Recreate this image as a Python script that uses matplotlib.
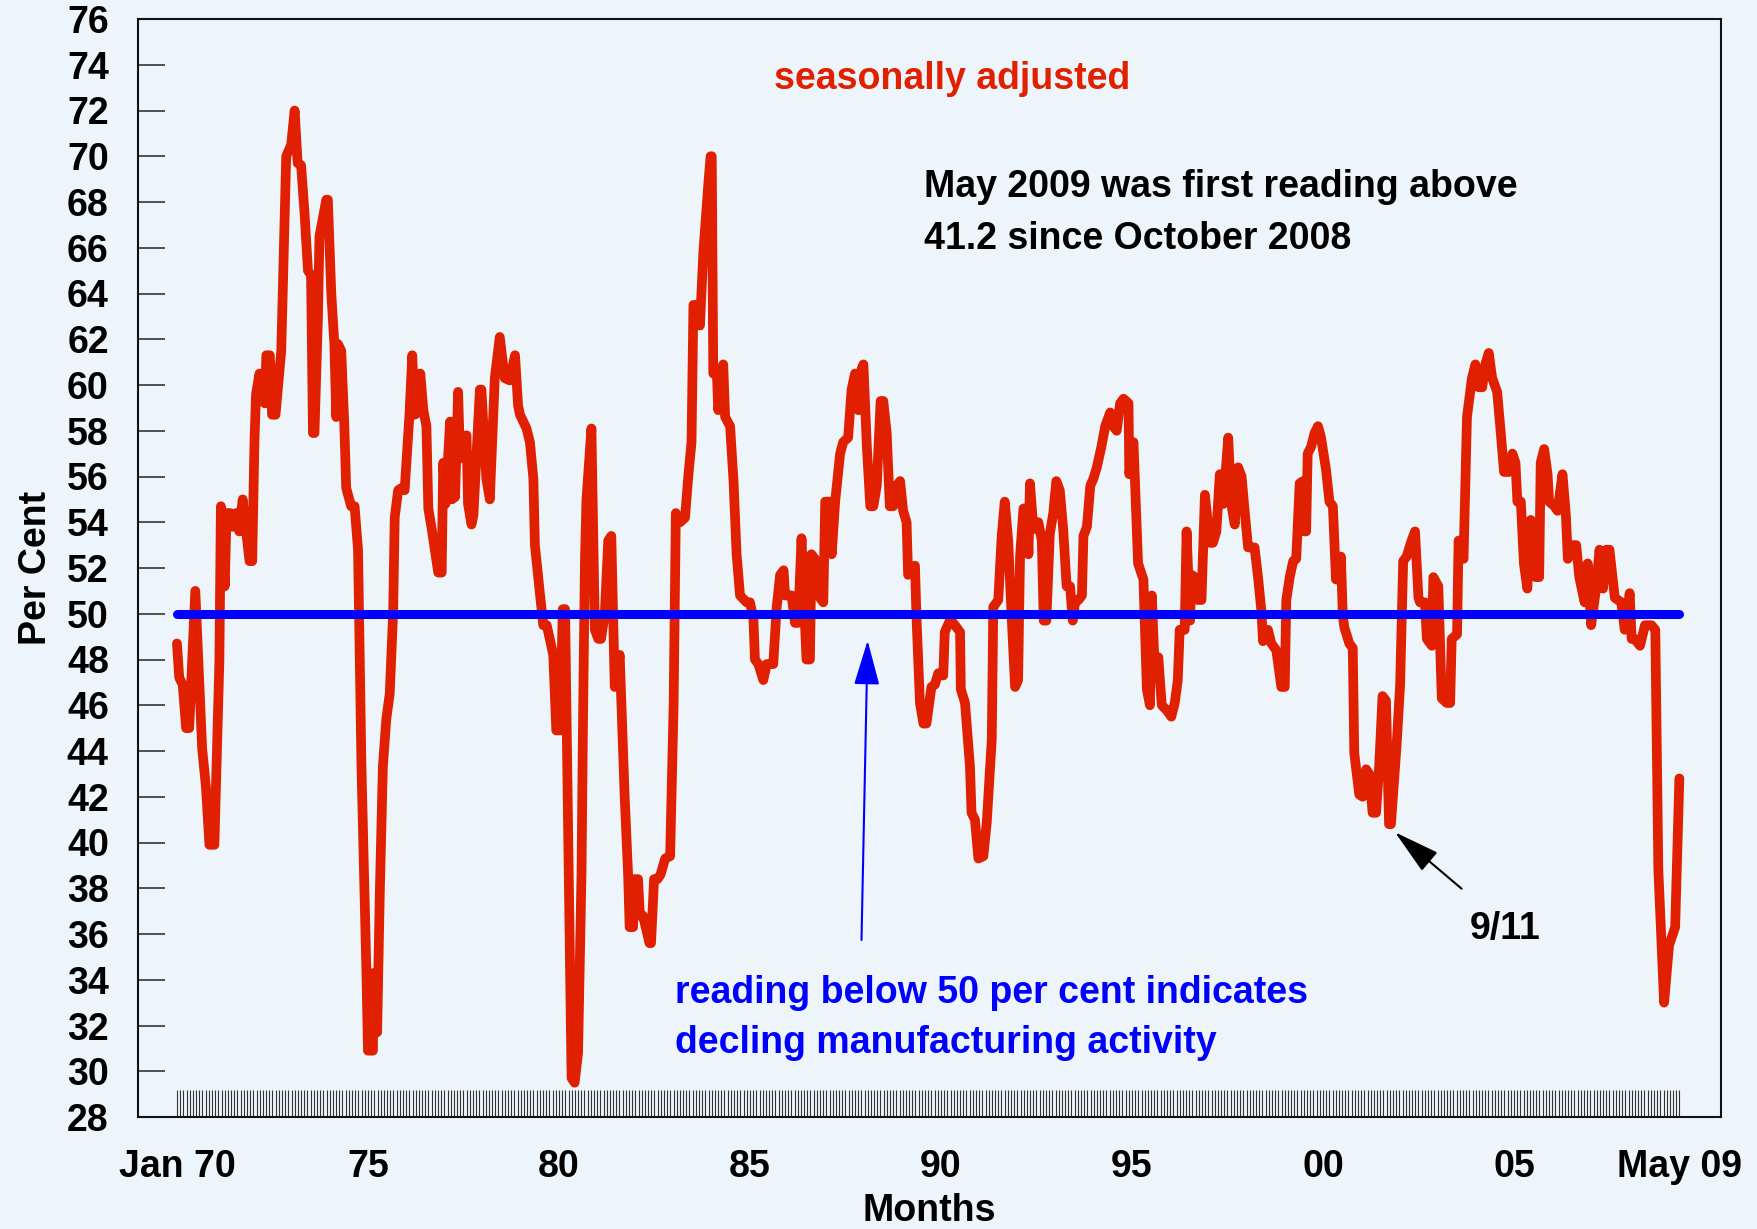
import matplotlib

matplotlib.use("Agg")
import matplotlib.pyplot as plt
import numpy as np

# ISM manufacturing index (per cent) at its vertices
months = [
    1970.00, 1970.06, 1970.15, 1970.24, 1970.32, 1970.48, 1970.66, 1970.76, 1970.85, 1970.98,
    1971.11, 1971.15, 1971.25, 1971.30, 1971.40, 1971.46, 1971.55, 1971.63, 1971.72, 1971.81,
    1971.90, 1971.97, 1972.03, 1972.07, 1972.16, 1972.25, 1972.30, 1972.34, 1972.43, 1972.49,
    1972.58, 1972.73, 1972.86, 1972.99, 1973.08, 1973.16, 1973.25, 1973.34, 1973.43, 1973.51,
    1973.56, 1973.60, 1973.69, 1973.73, 1973.91, 1973.95, 1974.04, 1974.12, 1974.17, 1974.21,
    1974.30, 1974.38, 1974.43, 1974.56, 1974.65, 1974.74, 1974.83, 1974.96, 1975.00, 1975.13,
    1975.15, 1975.24, 1975.31, 1975.39, 1975.48, 1975.57, 1975.66, 1975.70, 1975.79, 1975.88,
    1975.96, 1976.09, 1976.16, 1976.22, 1976.31, 1976.37, 1976.45, 1976.53, 1976.58, 1976.67,
    1976.84, 1976.93, 1976.97, 1977.03, 1977.15, 1977.20, 1977.23, 1977.28, 1977.36, 1977.41,
    1977.58, 1977.62, 1977.71, 1977.76, 1977.93, 1977.97, 1978.10, 1978.19, 1978.32, 1978.45,
    1978.58, 1978.71, 1978.85, 1978.93, 1978.98, 1979.15, 1979.24, 1979.33, 1979.37, 1979.50,
    1979.59, 1979.68, 1979.76, 1979.85, 1979.93, 1980.03, 1980.10, 1980.16, 1980.20, 1980.24,
    1980.33, 1980.41, 1980.50, 1980.59, 1980.63, 1980.68, 1980.72, 1980.85, 1980.94, 1981.03,
    1981.10, 1981.20, 1981.29, 1981.37, 1981.46, 1981.59, 1981.63, 1981.72, 1981.81, 1981.85,
    1981.94, 1981.98, 1982.07, 1982.12, 1982.20, 1982.37, 1982.41, 1982.49, 1982.58, 1982.66,
    1982.78, 1982.91, 1982.95, 1983.00, 1983.06, 1983.17, 1983.30, 1983.39, 1983.47, 1983.52,
    1983.60, 1983.69, 1983.78, 1983.91, 1983.97, 1984.00, 1984.04, 1984.13, 1984.17, 1984.30,
    1984.35, 1984.48, 1984.57, 1984.65, 1984.74, 1984.91, 1985.00, 1985.09, 1985.13, 1985.22,
    1985.35, 1985.44, 1985.61, 1985.70, 1985.79, 1985.88, 1985.92, 1986.09, 1986.18, 1986.26,
    1986.35, 1986.39, 1986.48, 1986.57, 1986.61, 1986.70, 1986.79, 1986.92, 1986.97, 1987.10,
    1987.14, 1987.23, 1987.36, 1987.44, 1987.57, 1987.66, 1987.75, 1987.84, 1987.92, 1987.97,
    1988.06, 1988.15, 1988.23, 1988.32, 1988.42, 1988.49, 1988.58, 1988.66, 1988.75, 1988.84,
    1988.93, 1989.01, 1989.10, 1989.14, 1989.32, 1989.36, 1989.45, 1989.54, 1989.62, 1989.75,
    1989.84, 1989.93, 1990.06, 1990.10, 1990.23, 1990.32, 1990.50, 1990.52, 1990.63, 1990.76,
    1990.80, 1990.89, 1990.98, 1991.11, 1991.20, 1991.33, 1991.37, 1991.50, 1991.59, 1991.67,
    1991.76, 1991.85, 1991.94, 1992.02, 1992.07, 1992.16, 1992.25, 1992.29, 1992.33, 1992.42,
    1992.55, 1992.64, 1992.69, 1992.76, 1992.85, 1992.94, 1993.02, 1993.11, 1993.20, 1993.29,
    1993.38, 1993.45, 1993.51, 1993.60, 1993.69, 1993.73, 1993.82, 1993.91, 1993.99, 1994.08,
    1994.20, 1994.30, 1994.43, 1994.51, 1994.60, 1994.69, 1994.78, 1994.91, 1994.93, 1995.04,
    1995.16, 1995.30, 1995.39, 1995.47, 1995.52, 1995.60, 1995.69, 1995.78, 1995.90, 1996.03,
    1996.12, 1996.20, 1996.25, 1996.38, 1996.43, 1996.52, 1996.56, 1996.65, 1996.73, 1996.82,
    1996.91, 1997.04, 1997.12, 1997.21, 1997.30, 1997.39, 1997.52, 1997.60, 1997.69, 1997.78,
    1997.87, 1997.95, 1998.04, 1998.21, 1998.30, 1998.39, 1998.43, 1998.56, 1998.65, 1998.78,
    1998.91, 1999.00, 1999.04, 1999.13, 1999.22, 1999.30, 1999.39, 1999.48, 1999.52, 1999.56,
    1999.60, 1999.69, 1999.78, 1999.87, 1999.95, 2000.08, 2000.17, 2000.26, 2000.34, 2000.43,
    2000.47, 2000.52, 2000.56, 2000.69, 2000.78, 2000.82, 2000.95, 2001.04, 2001.13, 2001.21,
    2001.30, 2001.39, 2001.47, 2001.56, 2001.65, 2001.73, 2001.78, 2001.93, 2002.02, 2002.10,
    2002.19, 2002.32, 2002.41, 2002.50, 2002.54, 2002.67, 2002.72, 2002.85, 2002.89, 2003.02,
    2003.11, 2003.24, 2003.33, 2003.37, 2003.51, 2003.55, 2003.68, 2003.77, 2003.90, 2003.99,
    2004.08, 2004.17, 2004.25, 2004.34, 2004.43, 2004.56, 2004.65, 2004.74, 2004.87, 2004.96,
    2005.04, 2005.09, 2005.18, 2005.26, 2005.35, 2005.44, 2005.57, 2005.66, 2005.70, 2005.79,
    2005.88, 2005.92, 2006.06, 2006.14, 2006.27, 2006.36, 2006.41, 2006.54, 2006.63, 2006.71,
    2006.85, 2006.93, 2007.02, 2007.15, 2007.24, 2007.33, 2007.42, 2007.50, 2007.64, 2007.81,
    2007.90, 2008.03, 2008.08, 2008.16, 2008.30, 2008.43, 2008.60, 2008.70, 2008.78, 2008.93,
    2009.06, 2009.22, 2009.33,
]
pmi = [
    48.7, 47.2, 46.9, 45.0, 45.0, 51.0, 44.1, 42.4, 39.9, 39.9,
    47.9, 54.7, 51.2, 54.4, 54.4, 53.8, 54.4, 53.6, 55.0, 53.6,
    52.3, 52.3, 57.6, 59.6, 60.5, 59.4, 59.2, 61.3, 61.3, 58.7,
    58.7, 61.5, 70.0, 70.5, 72.0, 69.7, 69.6, 67.5, 65.0, 64.8,
    57.9, 57.9, 62.9, 66.5, 68.1, 68.1, 64.0, 61.8, 58.6, 61.8,
    61.5, 58.3, 55.5, 54.7, 54.7, 52.8, 43.3, 34.3, 30.9, 30.9,
    34.3, 31.7, 37.8, 43.3, 45.4, 46.5, 50.1, 54.2, 55.4, 55.5,
    55.4, 58.8, 61.3, 58.7, 58.8, 60.5, 58.9, 58.2, 54.6, 53.7,
    51.8, 51.8, 56.6, 54.8, 58.4, 55.0, 58.4, 55.1, 59.7, 56.8,
    57.8, 54.8, 53.9, 54.3, 59.8, 59.8, 55.9, 55.0, 60.3, 62.1,
    60.3, 60.2, 61.3, 59.1, 58.7, 58.1, 57.5, 55.9, 53.0, 50.9,
    49.5, 49.5, 48.9, 48.2, 44.9, 44.9, 50.2, 50.2, 45.4, 40.9,
    29.7, 29.5, 30.8, 38.6, 45.4, 52.3, 55.0, 58.1, 49.3, 48.9,
    48.9, 50.0, 53.2, 53.4, 46.8, 48.2, 46.3, 42.0, 38.6, 36.3,
    36.3, 38.4, 38.4, 36.8, 36.8, 35.6, 35.6, 38.4, 38.4, 38.6,
    39.3, 39.4, 42.2, 45.9, 54.4, 54.0, 54.2, 56.1, 57.5, 63.5,
    63.5, 62.6, 65.8, 68.8, 70.0, 70.0, 60.5, 60.7, 58.9, 60.9,
    58.6, 58.2, 55.8, 52.6, 50.8, 50.5, 50.5, 49.8, 48.0, 47.8,
    47.1, 47.8, 47.8, 50.3, 51.7, 51.9, 50.8, 50.8, 49.6, 49.6,
    53.3, 51.5, 48.0, 48.0, 52.6, 52.4, 50.8, 50.5, 54.9, 54.9,
    52.6, 54.9, 57.0, 57.5, 57.7, 59.8, 60.5, 58.9, 60.7, 60.9,
    57.3, 54.7, 54.7, 55.6, 59.3, 59.3, 57.9, 54.7, 54.7, 55.6,
    55.8, 54.5, 54.0, 51.7, 52.1, 49.8, 46.1, 45.2, 45.2, 46.8,
    46.9, 47.4, 47.3, 49.2, 49.7, 49.6, 49.2, 46.7, 46.1, 43.3,
    41.3, 41.0, 39.3, 39.4, 40.9, 44.5, 50.3, 50.6, 53.4, 54.9,
    53.2, 49.9, 46.8, 47.1, 52.5, 54.6, 54.6, 52.6, 55.7, 53.7,
    54.0, 53.2, 49.7, 49.7, 53.5, 54.4, 55.8, 55.4, 53.7, 51.2,
    51.2, 49.7, 50.5, 50.6, 50.8, 53.4, 53.8, 55.6, 55.9, 56.4,
    57.3, 58.2, 58.8, 58.2, 58.0, 59.2, 59.4, 59.2, 56.1, 57.5,
    52.2, 51.5, 46.7, 46.0, 50.8, 47.4, 48.1, 46.0, 45.8, 45.5,
    46.1, 47.1, 49.3, 49.3, 53.6, 49.7, 51.7, 51.6, 50.6, 50.6,
    55.2, 53.1, 53.1, 53.6, 56.1, 54.8, 57.7, 54.8, 53.9, 56.4,
    56.0, 54.5, 52.9, 52.9, 51.6, 50.1, 48.8, 49.3, 48.7, 48.4,
    46.8, 46.8, 50.6, 51.6, 52.3, 52.4, 55.7, 55.8, 53.6, 53.6,
    57.0, 57.3, 57.9, 58.2, 57.7, 56.3, 54.9, 54.7, 51.5, 51.5,
    52.5, 49.9, 49.4, 48.7, 48.5, 43.9, 42.1, 42.0, 43.2, 43.0,
    41.3, 41.3, 43.3, 46.4, 46.2, 40.8, 40.8, 44.3, 46.9, 52.3,
    52.5, 53.2, 53.6, 50.7, 50.5, 50.5, 48.9, 48.6, 51.6, 51.2,
    46.3, 46.1, 46.1, 48.9, 49.1, 53.2, 52.4, 58.6, 60.3, 60.9,
    59.9, 59.9, 60.9, 61.4, 60.3, 59.7, 58.0, 56.2, 56.2, 57.0,
    56.6, 54.9, 54.9, 52.2, 51.1, 54.1, 51.6, 51.6, 56.6, 57.2,
    56.1, 54.9, 54.7, 54.5, 56.1, 54.3, 52.4, 53.0, 53.0, 51.6,
    50.5, 52.2, 49.5, 51.1, 52.8, 51.1, 52.8, 52.8, 50.7, 50.5,
    49.3, 50.9, 48.9, 48.9, 48.6, 49.5, 49.5, 49.3, 38.8, 33.0,
    35.5, 36.3, 42.8,
]

tick_pos = [1970, 1975, 1980, 1985, 1990, 1995, 2000, 2005, 2009 + 4 / 12]
tick_labels = ["Jan 70", "75", "80", "85", "90", "95", "00", "05", "May 09"]
y_ticks = list(range(28, 78, 2))
threshold = 50

BG = "#edf5fb"
RED = "#e02000"
BLUE = "#0000ff"

plt.rcParams["font.family"] = ["Liberation Sans", "DejaVu Sans"]
plt.rcParams["font.weight"] = "bold"

W, H = 1758, 1229
fig = plt.figure(figsize=(W / 100, H / 100), dpi=100, facecolor=BG)
ax = fig.add_axes([138 / W, 1 - 1117 / H, (1721 - 138) / W, (1117 - 19) / H])
ax.set_facecolor(BG)

ax.plot(months, pmi, color=RED, lw=7, solid_joinstyle="round", solid_capstyle="round", zorder=3)
ax.plot([months[0], months[-1]], [threshold, threshold], color=BLUE, lw=6.5,
        solid_capstyle="round", zorder=4)

ax.set_xlim(1968.98, 2010.42)
ax.set_ylim(28, 76)

# monthly tick comb along the bottom
month_ticks = 1970 + np.arange(0, 473) / 12
ax.set_xticks(month_ticks, minor=True)
ax.set_xticks(tick_pos)
ax.set_xticklabels(tick_labels)
ax.set_yticks(y_ticks)
ax.tick_params(axis="x", which="both", direction="in", length=19.4, width=0.8,
               color="#333333", pad=23, labelsize=27)
ax.tick_params(axis="y", direction="in", length=19.4, width=1.2, color="#333333",
               pad=21, labelsize=27)
for lab in ax.get_xticklabels() + ax.get_yticklabels():
    lab.set_fontweight("bold")
for sp in ax.spines.values():
    sp.set_linewidth(1.5)
    sp.set_color("#111111")

ax.set_xlabel("Months", fontsize=27, fontweight="bold", labelpad=6)
ax.set_ylabel("Per Cent", fontsize=27, fontweight="bold", labelpad=9)

ax.text(1985.63, 72.96, "seasonally adjusted", color=RED, fontsize=27,
        fontweight="bold", va="baseline")
ax.text(1989.56, 68.22, "May 2009 was first reading above", color="black",
        fontsize=27, fontweight="bold", va="baseline")
ax.text(1989.56, 65.93, "41.2 since October 2008", color="black",
        fontsize=27, fontweight="bold", va="baseline")
ax.text(1983.04, 33.0, "reading below 50 per cent indicates", color=BLUE,
        fontsize=27, fontweight="bold", va="baseline")
ax.text(1983.04, 30.78, "decling manufacturing activity", color=BLUE,
        fontsize=27, fontweight="bold", va="baseline")

ax.annotate("", xy=(1988.08, 48.83), xytext=(1987.92, 35.74),
            arrowprops=dict(arrowstyle="-|>,head_length=2.8,head_width=0.8",
                            color=BLUE, lw=1.5, shrinkA=0, shrinkB=0,
                            mutation_scale=10), zorder=5)
ax.annotate("", xy=(2001.885, 40.45), xytext=(2003.63, 37.98),
            arrowprops=dict(arrowstyle="-|>,head_length=2.9,head_width=0.76",
                            color="black", lw=1.5, shrinkA=0, shrinkB=0,
                            mutation_scale=10), zorder=5)
ax.text(2004.76, 36.23, "9/11", color="black", fontsize=27, fontweight="bold",
        ha="center", va="center")

fig.savefig("out.png", dpi=100, facecolor=BG)
